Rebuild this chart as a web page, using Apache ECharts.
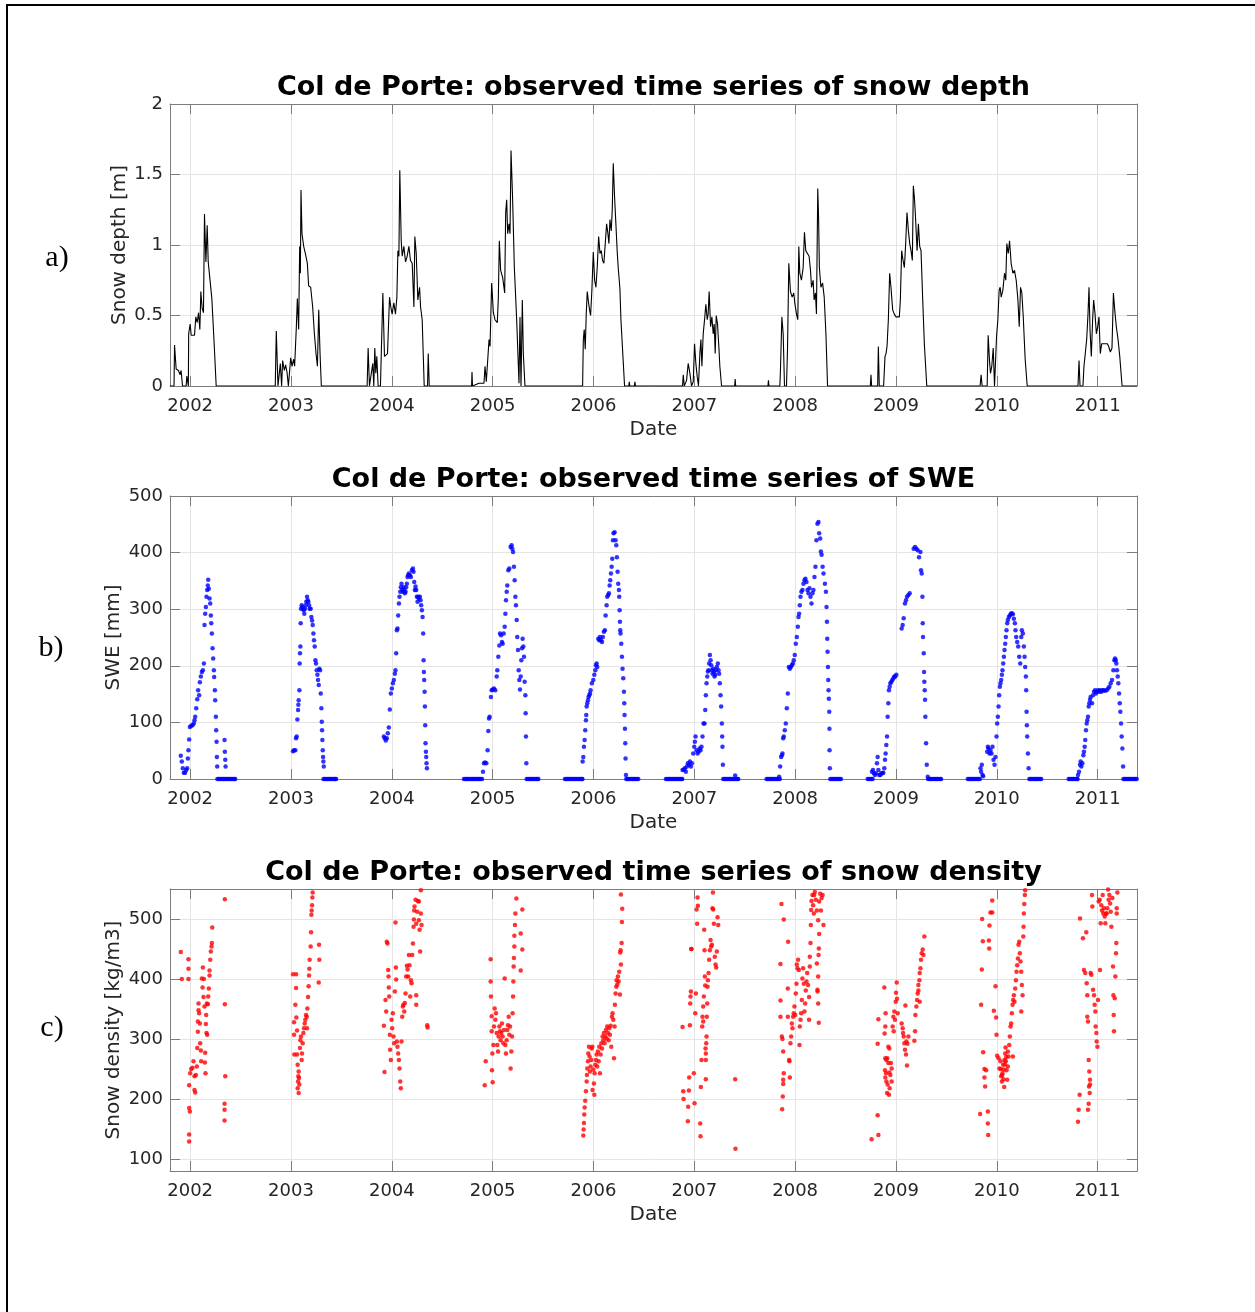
<!DOCTYPE html>
<html>
<head>
<meta charset="utf-8">
<script src="https://cdn.jsdelivr.net/npm/echarts@6/dist/echarts.min.js"></script>
<style>
  html, body { margin: 0; padding: 0; background: #ffffff; }
  #chart { width: 1255px; height: 1312px; }
</style>
</head>
<body>
<div id="chart"></div>
<script>
// Col de Porte observations. Dates are decimal years (2002.0 = 1 Jan 2002).

// ---- Snow depth [m], one array per winter ----
const depth2002 = [[2001.80,0],[2001.84,0],[2001.845,0.29],[2001.861,0.12],[2001.884,0.11],[2001.90,0.08],[2001.91,0.11],[2001.924,0],[2001.96,0],[2001.967,0.07],[2001.978,0.06],[2001.982,0],[2001.985,0.37],[2002.0,0.44],[2002.01,0.36],[2002.043,0.36],[2002.056,0.49],[2002.07,0.45],[2002.083,0.52],[2002.096,0.40],[2002.106,0.67],[2002.119,0.55],[2002.132,0.52],[2002.142,1.22],[2002.156,0.88],[2002.169,1.14],[2002.179,0.88],[2002.215,0.62],[2002.238,0.30],[2002.258,0]];
const depth2003 = [[2002.844,0],[2002.854,0.39],[2002.871,0],[2002.89,0],[2002.894,0.16],[2002.907,0],[2002.917,0.18],[2002.934,0.11],[2002.947,0.15],[2002.960,0.10],[2002.974,0],[2002.987,0],[2002.997,0.20],[2003.010,0.14],[2003.026,0.19],[2003.036,0.14],[2003.053,0.42],[2003.063,0.62],[2003.076,0.40],[2003.086,0.99],[2003.093,0.80],[2003.099,1.39],[2003.109,1.08],[2003.126,0.99],[2003.142,0.94],[2003.162,0.87],[2003.175,0.71],[2003.195,0.70],[2003.215,0.56],[2003.232,0.37],[2003.248,0.23],[2003.262,0.14],[2003.275,0.54],[2003.288,0.23],[2003.301,0]];
const depth2004 = [[2003.755,0],[2003.765,0.27],[2003.778,0],[2003.811,0.16],[2003.821,0],[2003.831,0.27],[2003.841,0.09],[2003.851,0.21],[2003.864,0],[2003.887,0],[2003.911,0.66],[2003.927,0.21],[2003.937,0.21],[2003.957,0.23],[2003.964,0.22],[2003.977,0.63],[2003.990,0.56],[2004.003,0.51],[2004.020,0.59],[2004.036,0.51],[2004.050,0.63],[2004.060,0.96],[2004.070,0.92],[2004.079,1.53],[2004.093,1.03],[2004.103,0.92],[2004.119,0.99],[2004.136,0.88],[2004.152,0.92],[2004.169,0.99],[2004.185,0.89],[2004.202,0.87],[2004.219,0.56],[2004.228,1.06],[2004.242,0.94],[2004.258,0.61],[2004.275,0.70],[2004.285,0.56],[2004.301,0.47],[2004.321,0],[2004.354,0],[2004.361,0.23],[2004.371,0]];
const depth2005 = [[2004.791,0],[2004.795,0.10],[2004.80,0],[2004.864,0.02],[2004.914,0.02],[2004.924,0.14],[2004.937,0.03],[2004.964,0.33],[2004.974,0.28],[2004.990,0.73],[2005.007,0.52],[2005.023,0.47],[2005.046,0.45],[2005.056,0.62],[2005.066,1.03],[2005.079,0.82],[2005.099,0.77],[2005.119,0.66],[2005.129,1.23],[2005.139,1.32],[2005.149,1.08],[2005.162,1.15],[2005.172,1.08],[2005.182,1.67],[2005.198,1.32],[2005.215,0.84],[2005.238,0.47],[2005.261,0.02],[2005.271,0.49],[2005.281,0],[2005.294,0.61],[2005.304,0.23],[2005.320,0]];
const depth2006 = [[2005.892,0],[2005.899,0.33],[2005.908,0.40],[2005.918,0.26],[2005.928,0.51],[2005.938,0.67],[2005.951,0.59],[2005.961,0.54],[2005.971,0.50],[2005.984,0.68],[2005.998,0.95],[2006.011,0.75],[2006.024,0.70],[2006.037,0.84],[2006.051,1.06],[2006.064,0.94],[2006.077,0.96],[2006.090,0.89],[2006.103,0.87],[2006.117,0.86],[2006.130,1.15],[2006.143,1.08],[2006.153,1.01],[2006.163,1.18],[2006.176,1.10],[2006.186,1.25],[2006.196,1.58],[2006.209,1.34],[2006.222,1.15],[2006.236,0.94],[2006.245,0.84],[2006.262,0.69],[2006.272,0.47],[2006.288,0.26],[2006.308,0],[2006.350,0],[2006.355,0.03],[2006.360,0],[2006.405,0],[2006.411,0.03],[2006.416,0]];
const depth2007 = [[2006.883,0],[2006.890,0.08],[2006.900,0],[2006.923,0.04],[2006.939,0.16],[2006.956,0.09],[2006.972,0],[2006.989,0.03],[2007.002,0.30],[2007.015,0.16],[2007.028,0.07],[2007.041,0],[2007.055,0.23],[2007.065,0.33],[2007.075,0.14],[2007.088,0.37],[2007.104,0.49],[2007.114,0.58],[2007.128,0.47],[2007.137,0.51],[2007.147,0.67],[2007.161,0.42],[2007.174,0.49],[2007.187,0.37],[2007.197,0.44],[2007.207,0.23],[2007.217,0.50],[2007.230,0.44],[2007.243,0.28],[2007.253,0.14],[2007.270,0],[2007.400,0],[2007.405,0.05],[2007.410,0],[2007.730,0],[2007.735,0.04],[2007.740,0]];
const depth2008 = [[2007.848,0],[2007.854,0.11],[2007.868,0.49],[2007.881,0.37],[2007.894,0],[2007.914,0],[2007.924,0.26],[2007.937,0.87],[2007.953,0.67],[2007.970,0.63],[2007.986,0.66],[2007.996,0.59],[2008.013,0.51],[2008.026,0.47],[2008.036,0.99],[2008.046,0.80],[2008.062,0.75],[2008.079,0.84],[2008.092,1.09],[2008.105,0.96],[2008.122,0.94],[2008.138,0.92],[2008.152,0.82],[2008.162,0.70],[2008.178,0.75],[2008.188,0.61],[2008.201,0.66],[2008.211,0.51],[2008.224,1.40],[2008.232,1.20],[2008.240,0.84],[2008.255,0.70],[2008.272,0.73],[2008.288,0.63],[2008.305,0.37],[2008.321,0]];
const depth2009 = [[2008.745,0],[2008.752,0.08],[2008.758,0],[2008.818,0],[2008.825,0.28],[2008.834,0],[2008.877,0],[2008.891,0.21],[2008.901,0.23],[2008.911,0.28],[2008.924,0.47],[2008.937,0.80],[2008.950,0.70],[2008.967,0.54],[2008.983,0.51],[2009.0,0.49],[2009.017,0.49],[2009.033,0.49],[2009.043,0.61],[2009.056,0.96],[2009.070,0.89],[2009.083,0.84],[2009.096,1.01],[2009.109,1.23],[2009.123,1.10],[2009.136,1.01],[2009.149,0.96],[2009.162,0.89],[2009.172,1.42],[2009.182,1.34],[2009.192,1.22],[2009.209,0.96],[2009.222,1.15],[2009.235,0.99],[2009.248,0.96],[2009.265,0.61],[2009.281,0.30],[2009.305,0]];
const depth2010 = [[2009.834,0],[2009.844,0.08],[2009.854,0],[2009.904,0],[2009.914,0.36],[2009.927,0.18],[2009.937,0.09],[2009.950,0.14],[2009.964,0.27],[2009.977,0],[2009.987,0],[2009.997,0.35],[2010.010,0.47],[2010.023,0.68],[2010.033,0.70],[2010.043,0.63],[2010.060,0.68],[2010.076,0.80],[2010.089,0.75],[2010.099,1.01],[2010.113,0.94],[2010.126,1.03],[2010.142,0.87],[2010.159,0.80],[2010.175,0.82],[2010.192,0.75],[2010.209,0.61],[2010.222,0.42],[2010.235,0.70],[2010.248,0.66],[2010.262,0.49],[2010.281,0.19],[2010.301,0]];
const depth2011 = [[2010.805,0],[2010.815,0.18],[2010.825,0],[2010.854,0],[2010.864,0.14],[2010.877,0.23],[2010.891,0.33],[2010.904,0.51],[2010.914,0.70],[2010.924,0.40],[2010.937,0.21],[2010.950,0.47],[2010.960,0.61],[2010.974,0.51],[2010.987,0.37],[2011.0,0.42],[2011.013,0.49],[2011.026,0.23],[2011.040,0.30],[2011.056,0.30],[2011.076,0.30],[2011.096,0.30],[2011.109,0.28],[2011.126,0.24],[2011.142,0.27],[2011.156,0.66],[2011.169,0.54],[2011.185,0.42],[2011.202,0.33],[2011.219,0.21],[2011.242,0],[2011.39,0]];

// ---- Snow water equivalent [mm] ----
const swe2002 = [[2001.907,41],[2001.917,31],[2001.927,19],[2001.937,11],[2001.950,11],[2001.960,16],[2001.970,19],[2001.977,36],[2001.983,51],[2001.990,70],[2001.997,92],[2002.010,94],[2002.023,95],[2002.036,98],[2002.043,104],[2002.050,110],[2002.060,125],[2002.070,141],[2002.079,157],[2002.089,148],[2002.096,171],[2002.106,181],[2002.116,189],[2002.126,192],[2002.136,204],[2002.142,272],[2002.149,292],[2002.156,304],[2002.162,322],[2002.169,334],[2002.175,342],[2002.179,352],[2002.185,336],[2002.192,319],[2002.199,310],[2002.205,289],[2002.209,275],[2002.215,257],[2002.222,231],[2002.228,213],[2002.235,192],[2002.238,180],[2002.245,157],[2002.248,139],[2002.255,110],[2002.258,86],[2002.262,66],[2002.265,39],[2002.268,22],[2002.341,69],[2002.344,48],[2002.348,34],[2002.351,22]];
const swe2003 = [[2003.020,49],[2003.030,51],[2003.043,51],[2003.050,72],[2003.056,75],[2003.063,105],[2003.070,122],[2003.073,131],[2003.076,139],[2003.083,157],[2003.086,204],[2003.089,222],[2003.093,234],[2003.096,275],[2003.099,301],[2003.106,307],[2003.113,304],[2003.119,301],[2003.126,298],[2003.132,292],[2003.139,301],[2003.146,307],[2003.152,313],[2003.159,322],[2003.166,316],[2003.172,313],[2003.179,307],[2003.185,301],[2003.195,301],[2003.202,286],[2003.209,280],[2003.215,272],[2003.222,257],[2003.228,245],[2003.235,234],[2003.242,210],[2003.248,204],[2003.255,192],[2003.262,184],[2003.268,175],[2003.275,166],[2003.281,195],[2003.288,192],[2003.295,151],[2003.301,125],[2003.305,101],[2003.308,86],[2003.311,69],[2003.315,51],[2003.318,39],[2003.321,31],[2003.325,22]];
const swe2004 = [[2003.921,75],[2003.930,72],[2003.940,68],[2003.950,72],[2003.960,81],[2003.970,91],[2003.980,123],[2003.990,151],[2004.000,160],[2004.010,169],[2004.020,175],[2004.030,186],[2004.036,192],[2004.043,222],[2004.050,263],[2004.056,266],[2004.063,289],[2004.070,310],[2004.076,322],[2004.083,331],[2004.089,339],[2004.096,345],[2004.103,334],[2004.109,331],[2004.116,339],[2004.123,334],[2004.129,328],[2004.136,331],[2004.142,339],[2004.149,345],[2004.156,357],[2004.162,360],[2004.169,363],[2004.179,360],[2004.189,357],[2004.199,369],[2004.209,372],[2004.215,366],[2004.222,348],[2004.228,334],[2004.235,340],[2004.242,334],[2004.248,322],[2004.255,313],[2004.262,322],[2004.268,319],[2004.278,322],[2004.285,316],[2004.291,307],[2004.298,298],[2004.305,286],[2004.311,257],[2004.315,210],[2004.318,189],[2004.321,175],[2004.325,154],[2004.328,128],[2004.331,95],[2004.334,63],[2004.338,48],[2004.341,39],[2004.344,28],[2004.348,19]];
const swe2005 = [[2004.904,13],[2004.914,28],[2004.924,29],[2004.937,28],[2004.950,51],[2004.957,85],[2004.964,107],[2004.970,110],[2004.983,145],[2004.990,157],[2005.000,158],[2005.013,160],[2005.026,157],[2005.040,181],[2005.046,192],[2005.056,216],[2005.066,236],[2005.073,257],[2005.083,254],[2005.092,242],[2005.099,239],[2005.109,257],[2005.119,269],[2005.126,292],[2005.132,316],[2005.139,331],[2005.145,342],[2005.155,369],[2005.165,372],[2005.178,410],[2005.188,413],[2005.195,407],[2005.202,401],[2005.211,375],[2005.218,351],[2005.225,322],[2005.231,307],[2005.238,281],[2005.244,251],[2005.251,228],[2005.258,192],[2005.264,175],[2005.271,158],[2005.278,181],[2005.284,210],[2005.291,231],[2005.297,248],[2005.304,234],[2005.311,216],[2005.317,172],[2005.324,148],[2005.327,116],[2005.330,75],[2005.334,28]];
const swe2006 = [[2005.892,31],[2005.899,39],[2005.905,57],[2005.912,69],[2005.918,86],[2005.925,104],[2005.928,113],[2005.932,128],[2005.938,134],[2005.945,139],[2005.951,145],[2005.958,148],[2005.965,151],[2005.971,157],[2005.984,169],[2005.998,175],[2006.008,184],[2006.018,192],[2006.024,201],[2006.031,204],[2006.037,198],[2006.047,248],[2006.057,245],[2006.064,251],[2006.074,245],[2006.084,242],[2006.093,251],[2006.103,260],[2006.113,263],[2006.120,289],[2006.130,307],[2006.136,322],[2006.146,325],[2006.153,328],[2006.160,342],[2006.166,351],[2006.173,363],[2006.180,375],[2006.186,389],[2006.193,422],[2006.199,434],[2006.209,436],[2006.219,422],[2006.226,413],[2006.232,392],[2006.239,366],[2006.245,345],[2006.252,334],[2006.255,322],[2006.259,298],[2006.262,278],[2006.265,263],[2006.268,257],[2006.275,239],[2006.282,216],[2006.288,195],[2006.295,178],[2006.302,154],[2006.305,134],[2006.308,113],[2006.312,89],[2006.315,63],[2006.318,36],[2006.322,7]];
const swe2007 = [[2006.883,16],[2006.896,17],[2006.906,19],[2006.916,13],[2006.926,22],[2006.936,28],[2006.946,25],[2006.956,31],[2006.966,22],[2006.976,28],[2006.989,45],[2006.999,57],[2007.005,66],[2007.012,75],[2007.022,51],[2007.032,45],[2007.042,48],[2007.052,54],[2007.061,51],[2007.071,57],[2007.081,75],[2007.091,98],[2007.101,98],[2007.108,122],[2007.114,148],[2007.121,169],[2007.128,181],[2007.134,190],[2007.141,192],[2007.147,204],[2007.154,219],[2007.161,210],[2007.167,201],[2007.174,192],[2007.180,186],[2007.187,195],[2007.194,189],[2007.200,181],[2007.207,184],[2007.213,192],[2007.223,198],[2007.233,204],[2007.240,192],[2007.246,186],[2007.253,169],[2007.260,148],[2007.266,128],[2007.273,98],[2007.276,75],[2007.279,57],[2007.283,25],[2007.405,6]];
const swe2008 = [[2007.841,4],[2007.851,22],[2007.861,39],[2007.868,42],[2007.874,45],[2007.881,72],[2007.887,75],[2007.897,86],[2007.907,98],[2007.917,125],[2007.927,151],[2007.937,198],[2007.947,195],[2007.957,198],[2007.967,201],[2007.977,204],[2007.986,210],[2007.996,219],[2008.006,239],[2008.016,251],[2008.026,269],[2008.033,286],[2008.039,292],[2008.046,307],[2008.053,322],[2008.062,331],[2008.072,334],[2008.082,345],[2008.092,351],[2008.102,354],[2008.112,348],[2008.122,334],[2008.132,328],[2008.142,337],[2008.152,322],[2008.162,310],[2008.172,328],[2008.181,334],[2008.191,357],[2008.201,375],[2008.211,422],[2008.221,451],[2008.231,454],[2008.238,434],[2008.248,425],[2008.255,402],[2008.262,396],[2008.272,375],[2008.281,363],[2008.295,345],[2008.305,331],[2008.311,304],[2008.315,278],[2008.318,248],[2008.321,225],[2008.325,198],[2008.328,175],[2008.331,157],[2008.334,142],[2008.338,119],[2008.340,89],[2008.341,51],[2008.344,19]];
const swe2009 = [[2008.762,13],[2008.772,16],[2008.781,10],[2008.791,7],[2008.801,10],[2008.811,28],[2008.818,39],[2008.825,16],[2008.834,7],[2008.844,7],[2008.854,10],[2008.864,10],[2008.874,11],[2008.884,19],[2008.891,34],[2008.897,45],[2008.904,60],[2008.911,75],[2008.917,110],[2008.924,134],[2008.930,157],[2008.937,163],[2008.944,169],[2008.954,172],[2008.964,175],[2008.974,178],[2008.983,181],[2008.993,181],[2009.003,184],[2009.056,266],[2009.066,272],[2009.076,284],[2009.089,310],[2009.099,316],[2009.109,322],[2009.123,325],[2009.136,328],[2009.175,407],[2009.189,410],[2009.202,407],[2009.215,404],[2009.228,392],[2009.242,401],[2009.248,369],[2009.255,363],[2009.262,322],[2009.265,275],[2009.268,251],[2009.275,222],[2009.278,189],[2009.281,172],[2009.285,157],[2009.288,140],[2009.291,110],[2009.298,63],[2009.305,25],[2009.315,4]];
const swe2010 = [[2009.838,19],[2009.844,13],[2009.851,25],[2009.858,7],[2009.864,5],[2009.904,48],[2009.911,57],[2009.917,54],[2009.927,45],[2009.937,51],[2009.947,45],[2009.957,57],[2009.967,34],[2009.977,25],[2009.987,39],[2009.997,75],[2010.003,98],[2010.010,110],[2010.017,128],[2010.023,148],[2010.030,163],[2010.036,169],[2010.043,175],[2010.050,184],[2010.056,192],[2010.063,204],[2010.070,216],[2010.076,228],[2010.083,239],[2010.089,251],[2010.096,263],[2010.103,275],[2010.109,281],[2010.119,286],[2010.129,289],[2010.139,292],[2010.149,293],[2010.159,291],[2010.169,283],[2010.179,275],[2010.185,263],[2010.192,251],[2010.202,242],[2010.212,234],[2010.222,216],[2010.232,204],[2010.242,251],[2010.248,263],[2010.258,257],[2010.268,234],[2010.275,216],[2010.281,198],[2010.288,181],[2010.291,157],[2010.295,119],[2010.298,95],[2010.301,75],[2010.308,45],[2010.315,19]];
const swe2011 = [[2010.805,7],[2010.815,13],[2010.825,25],[2010.831,31],[2010.838,22],[2010.848,28],[2010.858,42],[2010.864,48],[2010.871,57],[2010.877,69],[2010.884,86],[2010.891,98],[2010.897,104],[2010.904,110],[2010.911,128],[2010.917,134],[2010.924,140],[2010.930,145],[2010.944,134],[2010.954,148],[2010.964,154],[2010.974,157],[2010.983,151],[2010.993,154],[2011.003,157],[2011.013,154],[2011.023,157],[2011.036,154],[2011.046,157],[2011.060,157],[2011.070,156],[2011.089,157],[2011.103,160],[2011.116,163],[2011.129,169],[2011.142,175],[2011.156,192],[2011.166,210],[2011.172,213],[2011.179,210],[2011.185,204],[2011.192,192],[2011.199,181],[2011.205,169],[2011.212,151],[2011.219,134],[2011.225,119],[2011.232,98],[2011.238,75],[2011.245,54],[2011.252,22]];
// days with SWE recorded as 0 mm (snow-free ground between winters)
const sweZeroDates = [
  2002.270,2002.282,2002.294,2002.306,2002.318,2002.330,2002.342,2002.354,2002.366,2002.378,2002.390,2002.402,2002.414,2002.426,2002.438,2002.447,
  2003.322,2003.334,2003.346,2003.358,2003.370,2003.382,2003.394,2003.406,2003.418,2003.430,2003.442,2003.447,
  2004.715,2004.727,2004.739,2004.751,2004.763,2004.775,2004.787,2004.799,2004.811,2004.823,2004.835,2004.847,2004.859,2004.871,2004.883,2004.895,
  2005.337,2005.349,2005.361,2005.373,2005.385,2005.397,2005.409,2005.421,2005.433,2005.445,2005.453,
  2005.717,2005.729,2005.741,2005.753,2005.765,2005.777,2005.789,2005.801,2005.813,2005.825,2005.837,2005.849,2005.861,2005.873,2005.885,2005.890,
  2006.325,2006.337,2006.349,2006.361,2006.373,2006.385,2006.397,2006.409,2006.421,2006.433,2006.444,
  2006.718,2006.730,2006.742,2006.754,2006.766,2006.778,2006.790,2006.802,2006.814,2006.826,2006.838,2006.850,2006.862,2006.874,2006.880,
  2007.286,2007.298,2007.310,2007.322,2007.334,2007.346,2007.358,2007.370,2007.382,2007.394,2007.406,2007.418,2007.430,2007.435,
  2007.716,2007.728,2007.740,2007.752,2007.764,2007.776,2007.788,2007.800,2007.812,2007.824,2007.836,2007.848,
  2008.348,2008.360,2008.372,2008.384,2008.396,2008.408,2008.420,2008.432,2008.444,2008.454,
  2008.719,2008.731,2008.743,2008.755,2008.768,
  2009.318,2009.330,2009.342,2009.354,2009.366,2009.378,2009.390,2009.402,2009.414,2009.426,2009.438,2009.447,
  2009.712,2009.724,2009.736,2009.748,2009.760,2009.772,2009.784,2009.796,2009.808,2009.820,2009.832,
  2010.322,2010.334,2010.346,2010.358,2010.370,2010.382,2010.394,2010.406,2010.418,2010.430,2010.440,
  2010.712,2010.724,2010.736,2010.748,2010.760,2010.772,2010.784,2010.796,2010.800,
  2011.255,2011.267,2011.279,2011.291,2011.303,2011.315,2011.327,2011.339,2011.351,2011.363,2011.375,2011.387
];

// ---- Bulk snow density [kg/m3] ----
const rho2002 = [[2001.907,445],[2001.917,400],[2001.983,433],[2001.983,417],[2001.983,400],[2001.990,223],[2001.990,185],[2001.997,179],[2001.990,141],[2001.990,129],[2002.000,243],[2002.010,250],[2002.023,252],[2002.033,263],[2002.043,238],[2002.043,215],[2002.050,211],[2002.056,240],[2002.066,254],[2002.070,285],[2002.076,312],[2002.076,329],[2002.083,348],[2002.083,359],[2002.089,343],[2002.096,326],[2002.099,293],[2002.106,281],[2002.109,263],[2002.116,401],[2002.123,386],[2002.126,419],[2002.132,370],[2002.136,400],[2002.142,354],[2002.146,261],[2002.149,277],[2002.152,243],[2002.156,325],[2002.159,340],[2002.162,310],[2002.166,359],[2002.169,307],[2002.175,358],[2002.179,371],[2002.185,384],[2002.192,406],[2002.192,414],[2002.199,432],[2002.205,446],[2002.212,454],[2002.215,460],[2002.219,486],[2002.344,533],[2002.344,358],[2002.348,238],[2002.341,192],[2002.341,182],[2002.341,164]];
const rho2003 = [[2003.020,408],[2003.050,408],[2003.050,385],[2003.043,357],[2003.030,328],[2003.030,307],[2003.033,274],[2003.060,274],[2003.053,336],[2003.060,314],[2003.066,257],[2003.073,238],[2003.076,246],[2003.079,235],[2003.083,224],[2003.066,218],[2003.076,210],[2003.070,229],[2003.089,285],[2003.093,298],[2003.099,304],[2003.106,265],[2003.109,276],[2003.116,293],[2003.123,310],[2003.129,318],[2003.136,326],[2003.142,332],[2003.149,340],[2003.156,337],[2003.159,318],[2003.162,351],[2003.169,370],[2003.175,388],[2003.179,406],[2003.182,417],[2003.185,432],[2003.195,454],[2003.199,478],[2003.202,507],[2003.205,514],[2003.209,523],[2003.212,536],[2003.215,544],[2003.278,457],[2003.281,432],[2003.275,394]];
const rho2004 = [[2003.921,322],[2003.927,245],[2003.937,365],[2003.944,346],[2003.950,462],[2003.957,459],[2003.964,415],[2003.967,404],[2003.970,386],[2003.974,371],[2003.980,307],[2003.983,282],[2003.990,265],[2003.997,332],[2004.003,318],[2004.010,343],[2004.017,304],[2004.023,293],[2004.030,379],[2004.036,494],[2004.040,419],[2004.043,399],[2004.050,296],[2004.056,287],[2004.063,276],[2004.070,265],[2004.076,251],[2004.083,229],[2004.089,218],[2004.096,296],[2004.103,337],[2004.109,354],[2004.116,357],[2004.123,346],[2004.129,360],[2004.136,376],[2004.142,404],[2004.149,422],[2004.156,416],[2004.162,404],[2004.169,440],[2004.175,423],[2004.182,371],[2004.189,398],[2004.195,393],[2004.202,440],[2004.209,459],[2004.215,487],[2004.219,499],[2004.222,514],[2004.225,521],[2004.235,532],[2004.242,492],[2004.252,512],[2004.258,530],[2004.268,498],[2004.275,482],[2004.281,446],[2004.288,548],[2004.288,509],[2004.295,490],[2004.242,373],[2004.242,357],[2004.268,529],[2004.351,323],[2004.354,319]];
const rho2005 = [[2004.921,223],[2004.931,263],[2004.980,433],[2004.980,396],[2004.983,371],[2004.990,338],[2004.990,313],[2004.997,276],[2004.993,248],[2005.000,228],[2005.007,290],[2005.013,321],[2005.020,351],[2005.026,332],[2005.033,343],[2005.040,310],[2005.046,290],[2005.053,279],[2005.059,304],[2005.066,321],[2005.073,313],[2005.079,298],[2005.086,310],[2005.092,326],[2005.099,304],[2005.106,293],[2005.112,315],[2005.119,401],[2005.126,290],[2005.132,276],[2005.139,298],[2005.145,315],[2005.152,323],[2005.159,337],[2005.165,307],[2005.172,321],[2005.178,251],[2005.185,279],[2005.192,304],[2005.198,343],[2005.202,371],[2005.205,396],[2005.208,421],[2005.211,435],[2005.215,454],[2005.215,472],[2005.221,490],[2005.225,509],[2005.235,534],[2005.278,414],[2005.278,476],[2005.294,516],[2005.294,449]];
const rho2006 = [[2005.899,139],[2005.902,149],[2005.905,160],[2005.908,174],[2005.912,186],[2005.918,197],[2005.925,213],[2005.932,229],[2005.935,240],[2005.938,251],[2005.945,263],[2005.948,276],[2005.955,287],[2005.961,271],[2005.965,246],[2005.971,254],[2005.978,265],[2005.981,284],[2005.988,287],[2005.991,215],[2005.998,249],[2006.004,226],[2006.008,207],[2006.011,243],[2006.018,257],[2006.024,265],[2006.031,274],[2006.037,254],[2006.044,279],[2006.051,263],[2006.057,287],[2006.064,243],[2006.070,274],[2006.077,293],[2006.084,284],[2006.090,304],[2006.097,298],[2006.103,310],[2006.110,293],[2006.117,304],[2006.123,315],[2006.130,301],[2006.136,321],[2006.143,310],[2006.150,298],[2006.156,318],[2006.163,307],[2006.169,322],[2006.176,287],[2006.183,337],[2006.189,343],[2006.196,332],[2006.203,268],[2006.209,321],[2006.212,357],[2006.219,376],[2006.226,387],[2006.229,398],[2006.236,391],[2006.242,404],[2006.249,396],[2006.255,412],[2006.262,374],[2006.265,444],[2006.269,448],[2006.272,424],[2006.279,460],[2006.282,495],[2006.285,517],[2006.272,541]];
const rho2007 = [[2006.883,320],[2006.890,213],[2006.893,200],[2006.936,163],[2006.939,187],[2006.946,214],[2006.949,236],[2006.956,323],[2006.962,371],[2006.959,359],[2006.966,379],[2006.969,450],[2006.972,450],[2006.995,243],[2007.002,193],[2007.009,343],[2007.015,376],[2007.022,516],[2007.028,492],[2007.035,522],[2007.032,536],[2007.058,159],[2007.061,138],[2007.065,220],[2007.071,265],[2007.078,321],[2007.081,337],[2007.088,354],[2007.094,371],[2007.098,482],[2007.101,448],[2007.104,404],[2007.108,389],[2007.111,284],[2007.114,265],[2007.114,276],[2007.118,293],[2007.121,304],[2007.124,337],[2007.128,359],[2007.131,387],[2007.134,398],[2007.141,410],[2007.147,432],[2007.154,448],[2007.161,465],[2007.167,454],[2007.174,457],[2007.180,518],[2007.184,544],[2007.187,516],[2007.194,492],[2007.203,437],[2007.210,424],[2007.217,419],[2007.223,446],[2007.230,503],[2007.237,490],[2007.114,233],[2007.088,329],[2007.405,233],[2007.408,117]];
const rho2008 = [[2007.864,525],[2007.887,499],[2007.854,425],[2007.854,364],[2007.854,337],[2007.868,304],[2007.874,300],[2007.881,279],[2007.887,243],[2007.881,232],[2007.881,225],[2007.877,204],[2007.871,183],[2007.930,462],[2007.927,384],[2007.927,337],[2007.940,265],[2007.943,263],[2007.947,236],[2007.953,293],[2007.960,304],[2007.967,326],[2007.973,318],[2007.980,337],[2007.986,343],[2007.993,354],[2008.000,340],[2008.006,376],[2008.013,392],[2008.016,424],[2008.023,418],[2008.029,432],[2008.036,415],[2008.043,290],[2008.046,321],[2008.053,332],[2008.059,343],[2008.066,365],[2008.072,401],[2008.079,418],[2008.086,392],[2008.092,346],[2008.099,359],[2008.105,381],[2008.112,396],[2008.119,410],[2008.128,390],[2008.138,370],[2008.145,421],[2008.152,460],[2008.155,490],[2008.158,515],[2008.162,530],[2008.171,540],[2008.178,523],[2008.185,509],[2008.195,545],[2008.145,437],[2008.138,332],[2008.234,327],[2008.221,382],[2008.228,359],[2008.189,540],[2008.205,532],[2008.215,514],[2008.238,529],[2008.248,542],[2008.262,535],[2008.228,498],[2008.255,514],[2008.272,540],[2008.281,490],[2008.238,475],[2008.235,451],[2008.232,440],[2008.228,404],[2008.222,379],[2008.215,426]];
const rho2009 = [[2008.758,133],[2008.818,292],[2008.825,333],[2008.818,173],[2008.825,140],[2008.884,386],[2008.897,343],[2008.887,309],[2008.894,321],[2008.924,287],[2008.934,284],[2008.894,268],[2008.904,265],[2008.914,268],[2008.924,260],[2008.950,260],[2008.957,251],[2008.891,248],[2008.901,243],[2008.934,244],[2008.944,240],[2008.894,236],[2008.904,229],[2008.917,224],[2008.911,210],[2008.937,218],[2008.930,207],[2008.957,229],[2008.967,321],[2008.974,337],[2008.983,346],[2008.977,313],[2008.990,332],[2008.997,362],[2009.000,377],[2009.007,394],[2009.010,367],[2009.017,343],[2009.056,326],[2009.066,318],[2009.076,304],[2009.083,293],[2009.089,282],[2009.099,274],[2009.109,256],[2009.070,310],[2009.093,356],[2009.103,296],[2009.113,292],[2009.123,304],[2009.182,297],[2009.189,313],[2009.192,340],[2009.202,354],[2009.209,365],[2009.215,376],[2009.222,390],[2009.232,398],[2009.235,410],[2009.242,418],[2009.248,432],[2009.255,443],[2009.265,449],[2009.272,440],[2009.281,471],[2009.235,362],[2009.222,381]];
const rho2010 = [[2009.834,175],[2009.844,357],[2009.851,416],[2009.854,500],[2009.861,463],[2009.864,278],[2009.877,250],[2009.877,236],[2009.884,221],[2009.894,248],[2009.911,179],[2009.911,159],[2009.914,140],[2009.921,464],[2009.924,451],[2009.927,489],[2009.937,511],[2009.954,531],[2009.954,511],[2009.970,347],[2009.987,388],[2009.993,336],[2009.997,307],[2010.003,272],[2010.017,268],[2010.026,251],[2010.036,263],[2010.040,250],[2010.043,238],[2010.050,229],[2010.053,240],[2010.056,243],[2010.063,257],[2010.066,233],[2010.070,249],[2010.073,220],[2010.076,265],[2010.080,258],[2010.083,276],[2010.086,286],[2010.089,263],[2010.093,270],[2010.096,248],[2010.103,232],[2010.109,254],[2010.116,271],[2010.123,290],[2010.129,304],[2010.136,321],[2010.142,326],[2010.149,343],[2010.156,357],[2010.162,365],[2010.169,373],[2010.175,362],[2010.182,384],[2010.189,398],[2010.195,412],[2010.202,423],[2010.209,434],[2010.215,457],[2010.222,462],[2010.228,443],[2010.235,429],[2010.242,412],[2010.248,390],[2010.255,373],[2010.262,471],[2010.265,487],[2010.268,509],[2010.272,525],[2010.278,540],[2010.281,548],[2010.159,271],[2010.109,279],[2010.242,346]];
const rho2011 = [[2010.805,162],[2010.811,182],[2010.821,207],[2010.825,501],[2010.854,468],[2010.864,415],[2010.877,410],[2010.887,478],[2010.891,393],[2010.897,373],[2010.897,337],[2010.904,329],[2010.911,265],[2010.917,246],[2010.924,232],[2010.924,224],[2010.914,221],[2010.921,210],[2010.911,192],[2010.904,182],[2010.930,410],[2010.937,407],[2010.944,540],[2010.947,521],[2010.954,382],[2010.964,373],[2010.970,357],[2010.977,346],[2010.980,321],[2010.987,310],[2010.990,296],[2010.997,287],[2011.003,365],[2011.010,529],[2011.020,532],[2011.023,415],[2011.030,493],[2011.036,523],[2011.043,514],[2011.050,540],[2011.056,509],[2011.063,518],[2011.070,504],[2011.076,493],[2011.083,509],[2011.089,509],[2011.096,518],[2011.103,549],[2011.109,532],[2011.116,540],[2011.123,526],[2011.129,512],[2011.136,487],[2011.146,535],[2011.152,421],[2011.156,373],[2011.159,340],[2011.162,313],[2011.169,368],[2011.175,404],[2011.182,443],[2011.185,460],[2011.189,509],[2011.195,544],[2011.189,518]];

// ---- Axes ----
const DATE_MIN = 2001.80, DATE_MAX = 2011.39;
const titles = [
  'Col de Porte: observed time series of snow depth',
  'Col de Porte: observed time series of SWE',
  'Col de Porte: observed time series of snow density'
];
const panelTags = ['a)', 'b)', 'c)'];
const yNames = ['Snow depth [m]', 'SWE [mm]', 'Snow density [kg/m3]'];
const xName = 'Date';

const depthData = [].concat(depth2002, depth2003, depth2004, depth2005, depth2006, depth2007, depth2008, depth2009, depth2010, depth2011);
const sweData = [].concat(swe2002, swe2003, swe2004, swe2005, swe2006, swe2007, swe2008, swe2009, swe2010, swe2011, sweZeroDates.map(d => [d, 0]));
const rhoData = [].concat(rho2002, rho2003, rho2004, rho2005, rho2006, rho2007, rho2008, rho2009, rho2010, rho2011);

const FONT = '"DejaVu Sans", "Noto Sans", sans-serif';
const BOX = '#7d7d7d';
const GRIDLINE = '#e4e4e4';
const TEXT = '#262626';

const layout = [
  { top: 104, height: 282, yMin: 0,  yMax: 2,   yInterval: 0.5, nameGap: 40, titleY: 88,  tagY: 258, tagX: 57 },
  { top: 496, height: 283, yMin: 0,  yMax: 500, yInterval: 100, nameGap: 46, titleY: 480, tagY: 648, tagX: 51 },
  { top: 889, height: 282, yMin: 80, yMax: 550, yInterval: null, nameGap: 46, titleY: 873, tagY: 1028, tagX: 52 }
];
const PLOT_LEFT = 170, PLOT_WIDTH = 967;

const grids = [], xAxes = [], yAxes = [];
layout.forEach((p, i) => {
  grids.push({ left: PLOT_LEFT, top: p.top, width: PLOT_WIDTH, height: p.height, show: false });
  const tick = { show: true, inside: true, length: 10, lineStyle: { color: BOX, width: 1 } };
  const line = { show: true, onZero: false, lineStyle: { color: BOX, width: 1 } };
  xAxes.push({
    type: 'value', gridIndex: i, min: DATE_MIN, max: DATE_MAX, splitNumber: 10, position: 'bottom',
    axisLine: line, axisTick: tick,
    axisLabel: { formatter: v => String(Math.round(v)), showMinLabel: false, showMaxLabel: false,
                 margin: 11, fontSize: 18, color: TEXT, fontFamily: FONT },
    splitLine: { show: true, lineStyle: { color: GRIDLINE, width: 1 } },
    name: xName, nameLocation: 'middle', nameGap: 34, nameMoveOverlap: false,
    nameTextStyle: { fontSize: 20, color: TEXT, fontFamily: FONT }
  });
  xAxes.push({
    type: 'value', gridIndex: i, min: DATE_MIN, max: DATE_MAX, splitNumber: 10, position: 'top',
    axisLine: line, axisTick: tick, axisLabel: { show: false }, splitLine: { show: false }
  });
  const yBase = { type: 'value', gridIndex: i, min: p.yMin, max: p.yMax, splitNumber: 5 };
  if (p.yInterval !== null) yBase.interval = p.yInterval;
  yAxes.push(Object.assign({}, yBase, {
    position: 'left', axisLine: line, axisTick: tick,
    axisLabel: { margin: 7, fontSize: 18, color: TEXT, fontFamily: FONT,
                 showMinLabel: p.yInterval !== null, showMaxLabel: p.yInterval !== null },
    splitLine: { show: true, lineStyle: { color: GRIDLINE, width: 1 } },
    name: yNames[i], nameLocation: 'middle', nameGap: p.nameGap, nameMoveOverlap: false,
    nameTextStyle: { fontSize: 20, color: TEXT, fontFamily: FONT }
  }));
  yAxes.push(Object.assign({}, yBase, {
    position: 'right', axisLine: line, axisTick: tick, axisLabel: { show: false }, splitLine: { show: false }
  }));
});

const graphics = [
  { type: 'line', shape: { x1: 7, y1: 4, x2: 7, y2: 1312 }, style: { stroke: '#000', lineWidth: 2 } },
  { type: 'line', shape: { x1: 6, y1: 5, x2: 1255, y2: 5 }, style: { stroke: '#000', lineWidth: 2 } }
];
layout.forEach((p, i) => {
  graphics.push({ type: 'text', style: { text: titles[i], x: PLOT_LEFT + PLOT_WIDTH / 2, y: p.titleY,
    font: 'bold 27px ' + FONT, fill: '#000', align: 'center', verticalAlign: 'middle' } });
  graphics.push({ type: 'text', style: { text: panelTags[i], x: p.tagX, y: p.tagY,
    font: '30px "Liberation Serif", "Times New Roman", serif', fill: '#000', align: 'center', verticalAlign: 'middle' } });
});

const chart = echarts.init(document.getElementById('chart'), null, { renderer: 'canvas' });
chart.setOption({
  animation: false,
  backgroundColor: '#ffffff',
  grid: grids,
  xAxis: xAxes,
  yAxis: yAxes,
  graphic: graphics,
  series: [
    { name: 'Snow depth', type: 'line', xAxisIndex: 0, yAxisIndex: 0, data: depthData,
      showSymbol: false, symbol: 'none', lineStyle: { color: '#000000', width: 1.1 }, silent: true },
    { name: 'SWE', type: 'scatter', xAxisIndex: 2, yAxisIndex: 2, data: sweData,
      symbolSize: 4.5, itemStyle: { color: '#0000ff' }, silent: true },
    { name: 'Snow density', type: 'scatter', xAxisIndex: 4, yAxisIndex: 4, data: rhoData,
      symbolSize: 4.5, itemStyle: { color: '#ff0000' }, silent: true, clip: true }
  ]
});
</script>
</body>
</html>
